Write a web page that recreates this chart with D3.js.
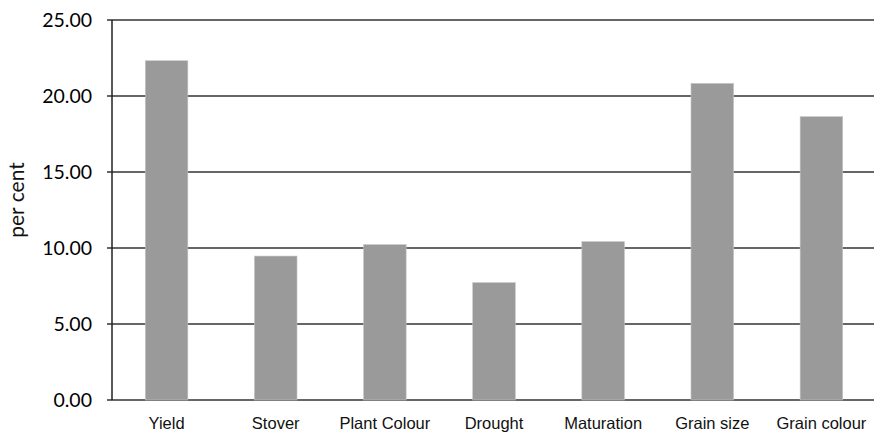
<!DOCTYPE html>
<html>
<head>
<meta charset="utf-8">
<script src="https://cdn.jsdelivr.net/npm/d3@7"></script>
<style>
  body { margin: 0; background: #fff; }
</style>
</head>
<body>
<div id="chart"></div>
<script>
const categories = ['Yield', 'Stover', 'Plant Colour', 'Drought', 'Maturation', 'Grain size', 'Grain colour'];
const values = [22.32, 9.47, 10.22, 7.72, 10.42, 20.83, 18.64];
const yTicks = [0, 5, 10, 15, 20, 25];

const width = 874, height = 433;
const margin = { top: 20, right: -2, bottom: 33, left: 112 };

const svg = d3.select('#chart')
  .append('svg')
  .attr('width', width)
  .attr('height', height);

const x = d3.scaleBand()
  .domain(categories)
  .range([margin.left, width - margin.right])
  .paddingInner(0.61)
  .paddingOuter(0.305);

const y = d3.scaleLinear()
  .domain([0, 25])
  .range([height - margin.bottom, margin.top]);

// gridlines
svg.append('g')
  .selectAll('line')
  .data(yTicks)
  .enter()
  .append('line')
  .attr('x1', margin.left - 5)
  .attr('x2', width)
  .attr('y1', d => y(d))
  .attr('y2', d => y(d))
  .attr('stroke', '#333')
  .attr('stroke-width', 1.5);

svg.selectAll('.bar')
  .data(values)
  .enter()
  .append('rect')
  .attr('class', 'bar')
  .attr('x', (_, i) => x(categories[i]))
  .attr('y', d => y(d))
  .attr('width', x.bandwidth())
  .attr('height', d => y(0) - y(d))
  .attr('fill', '#9a9a9a')
  .attr('stroke', '#c4c4c4')
  .attr('stroke-width', 0.6);

// y axis line
svg.append('line')
  .attr('x1', margin.left)
  .attr('x2', margin.left)
  .attr('y1', y(25))
  .attr('y2', y(0))
  .attr('stroke', '#222')
  .attr('stroke-width', 1.5);

svg.append('g')
  .selectAll('text')
  .data(yTicks)
  .enter()
  .append('text')
  .attr('x', margin.left - 20)
  .attr('y', d => y(d))
  .attr('dy', '0.36em')
  .attr('text-anchor', 'end')
  .style('font-family', 'Lato, "Open Sans", sans-serif')
  .style('font-size', '19.5px')
  .style('fill', '#000')
  .text(d => d3.format('.2f')(d));

svg.append('g')
  .selectAll('text')
  .data(categories)
  .enter()
  .append('text')
  .attr('x', d => x(d) + x.bandwidth() / 2)
  .attr('y', 429)
  .attr('text-anchor', 'middle')
  .style('font-family', '"Liberation Sans", Arial, sans-serif')
  .style('font-size', '16.5px')
  .style('fill', '#111')
  .text(d => d);

svg.append('text')
  .attr('transform', 'translate(24,200) rotate(-90)')
  .attr('text-anchor', 'middle')
  .style('font-family', 'Lato, "Open Sans", sans-serif')
  .style('font-size', '21px')
  .style('fill', '#111')
  .text('per cent');
</script>
</body>
</html>
